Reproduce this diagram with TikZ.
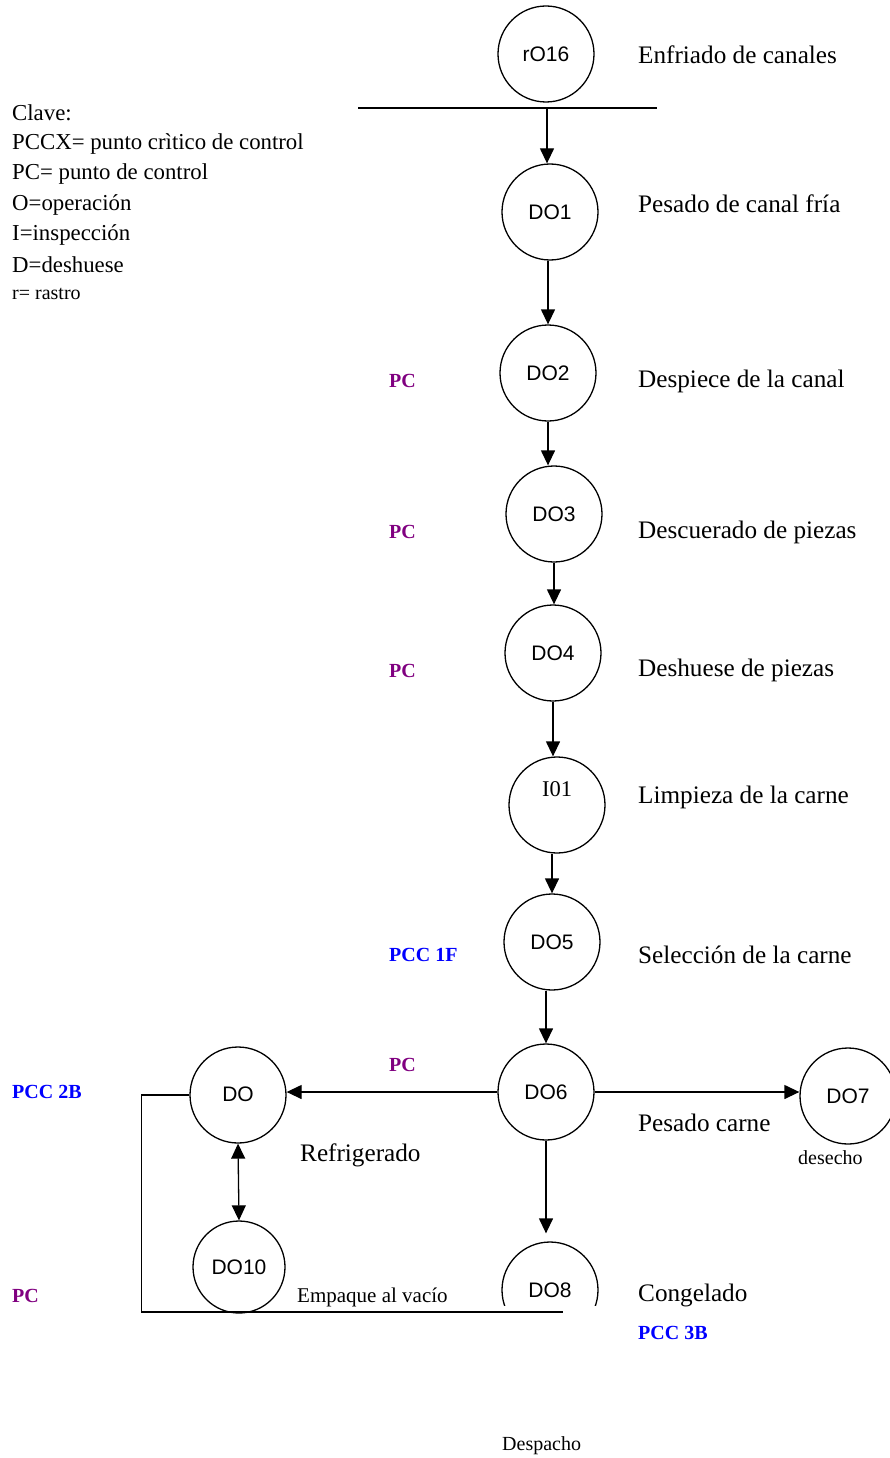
\documentclass[tikz,border=0pt]{standalone}
\usepackage{fontspec}
\setmainfont{Liberation Serif}
\newfontfamily\arialf{Liberation Sans}
\usetikzlibrary{arrows.meta}
\definecolor{pcpurple}{RGB}{128,0,128}
\definecolor{pccblue}{RGB}{0,0,255}
\begin{document}
\begin{tikzpicture}[x=1pt,y=-1pt,
  proc/.style={circle,draw,line width=1.3pt,minimum size=96pt,inner sep=0pt,font=\arialf\fontsize{21}{24}\selectfont},
  lbl/.style={anchor=west,inner sep=0pt,font=\fontsize{25.2}{29}\selectfont},
  key/.style={anchor=west,inner sep=0pt,font=\fontsize{22.8}{26}\selectfont},
  small/.style={anchor=west,inner sep=0pt,font=\fontsize{20}{23}\selectfont},
  pcl/.style={anchor=west,inner sep=0pt,text=pcpurple,font=\bfseries\fontsize{20}{23}\selectfont},
  pccl/.style={anchor=west,inner sep=0pt,text=pccblue,font=\bfseries\fontsize{20}{23}\selectfont},
  arr/.style={line width=1.3pt,-{Triangle[length=15pt,width=14pt]}},
  dbl/.style={line width=1.3pt,{Triangle[length=15pt,width=14pt]}-{Triangle[length=15pt,width=14pt]}},
  ln/.style={line width=1.3pt}]
\useasboundingbox (0,0) rectangle (890,1458);

% legend
\node[key] (k0) at (12,113) {Clave:};
\node[key] (k1) at (12,144) {PCCX= punto crìtico de control};
\node[key] (k2) at (12,174) {PC= punto de control};
\node[key] (k3) at (12,205) {O=operación};
\node[key] (k4) at (12,235) {I=inspección};
\node[key] (k5) at (12,265) {D=deshuese};
\node[small] (k6) at (12,294) {r= rastro};

% process nodes
\node[proc] (rO16) at (546,54) {rO16};
\node[proc] (DO1) at (550,212) {DO1};
\node[proc] (DO2) at (548,373) {DO2};
\node[proc] (DO3) at (554,514) {DO3};
\node[proc] (DO4) at (553,653) {DO4};
\node[proc,label={[font=\fontsize{22.5}{26}\selectfont,yshift=16pt]center:I01}] (I01) at (557,805) {};
\node[proc] (DO5) at (552,942) {DO5};
\node[proc] (DO6) at (546,1092) {DO6};
\node[proc] (DO9) at (238,1095) {\raisebox{2pt}{DO}};
\node[proc] (DO7) at (848,1096) {DO7};
\node[proc,minimum size=92pt] (DO10) at (239,1267) {\raisebox{-8pt}{DO10}};
\node[proc] (DO8) at (550,1290) {DO8};

% white cover boxes (text boxes hiding parts of circles)
\fill[white] (493,1306) rectangle (607,1345);
\fill[white] (278,1297) rectangle (292,1311);

% horizontal bar under rO16
\coordinate (hl) at (358,108);
\coordinate (hr) at (657,108);
\coordinate (hm) at (547,108);
\draw[ln] (hl) -- (hr);

% main chain
\draw[arr] (hm) -- (hm |- DO1.north);
\draw[arr] (DO1.south -| DO2.north) -- (DO2.north);
\draw[arr] (DO2.south) -- (DO2.south |- DO3.north);
\draw[arr] (DO3.south) -- (DO3.south |- DO4.north);
\draw[arr] (DO4.south) -- (DO4.south |- I01.north);
\draw[arr] (I01.south -| DO5.north) -- (DO5.north);
\draw[arr] (DO5.south -| DO6.north) -- (DO6.north);

% branches from DO6
\draw[arr] (DO6.west) -- (DO6.west -| DO9.east);
\draw[arr] (DO6.east) -- (DO6.east -| DO7.west);
\draw[arr,shorten >=8pt] (DO6.south) -- (DO6.south |- DO8.north);
\draw[dbl] (DO9.south) -- (DO10.north);

% return line
\coordinate (fb) at (563,1312);
\draw[ln] (DO9.west) -- ++(-48,0) |- (fb);

% step labels
\node[lbl] (t1) at (638,55) {Enfriado de canales};
\node[lbl] (t2) at (638,204) {Pesado de canal fría};
\node[lbl] (t3) at (638,381) {Despiece de la canal};
\node[lbl] (t4) at (638,532) {Descuerado de piezas};
\node[lbl] (t5) at (638,670) {Deshuese de piezas};
\node[lbl] (t6) at (638,797) {Limpieza de la carne};
\node[lbl] (t7) at (638,955) {Selección de la carne};
\node[lbl] (t8) at (638,1123) {Pesado carne};
\node[lbl] (t9) at (300,1155) {Refrigerado};
\node[lbl] (t10) at (638,1295) {Congelado};
\node[small,font=\fontsize{21}{24}\selectfont] (t11) at (297,1297) {Empaque al vacío};
\node[small] (t12) at (502,1446) {Despacho};
\node[small] (t13) at (798,1158) {desecho};

% control point labels
\node[pcl] (p1) at (389,381) {PC};
\node[pcl] (p2) at (389,532) {PC};
\node[pcl] (p3) at (389,671) {PC};
\node[pccl] (p4) at (389,955) {PCC 1F};
\node[pcl] (p5) at (389,1065) {PC};
\node[pccl] (p6) at (12,1092) {PCC 2B};
\node[pcl] (p7) at (12,1296) {PC};
\node[pccl] (p8) at (638,1333) {PCC 3B};
\end{tikzpicture}
\end{document}
